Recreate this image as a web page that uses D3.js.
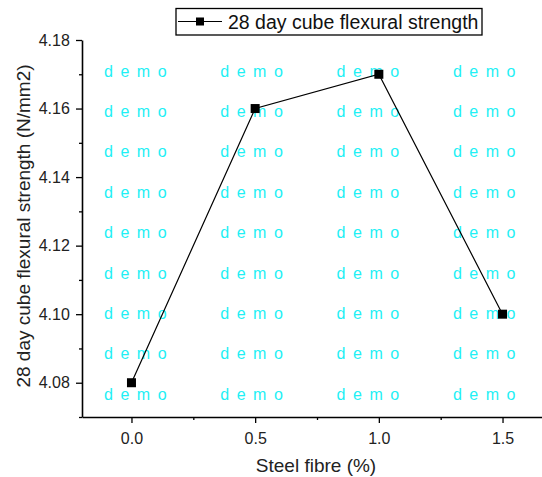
<!DOCTYPE html>
<html>
<head>
<meta charset="utf-8">
<script src="https://cdn.jsdelivr.net/npm/d3@7"></script>
<style>
  body { margin: 0; background: #fff; }
  text { font-family: Arial, "Liberation Sans", sans-serif; }
</style>
</head>
<body>
<svg id="chart" width="542" height="477"></svg>
<script>
var fibre = [0, 0.5, 1.0, 1.5];
var strength = [4.08, 4.16, 4.17, 4.10];
var xTicks = [0, 0.5, 1.0, 1.5];
var xMinor = [0.25, 0.75, 1.25];
var yTicks = [4.08, 4.10, 4.12, 4.14, 4.16, 4.18];
var yMinor = [4.07, 4.09, 4.11, 4.13, 4.15, 4.17];
var seriesName = "28 day cube flexural strength";
var watermarkRows = 9, watermarkCols = 4;

var svg = d3.select("#chart");
var margin = {left: 82, top: 40, bottom: 417};

var x = d3.scaleLinear().domain([-0.2, 1.7]).range([margin.left, 552]);
var y = d3.scaleLinear().domain([4.07, 4.18]).range([margin.bottom, margin.top]);

// watermark
var wm = svg.append("g").attr("class", "watermark");
for (var r = 0; r < watermarkRows; r++) {
  for (var c = 0; c < watermarkCols; c++) {
    wm.append("text")
      .attr("x", 104 + c * 116.3)
      .attr("y", 71 + r * 40.4)
      .attr("dy", "0.35em")
      .attr("fill", "#1ef0f5")
      .style("font-size", "16px")
      .style("letter-spacing", "7.5px")
      .text("demo");
  }
}

// axes
var gx = svg.append("g").attr("transform", "translate(0," + margin.bottom + ")");
gx.call(d3.axisBottom(x).tickValues(xTicks).tickFormat(d3.format(".1f")).tickSize(6).tickSizeOuter(0));
gx.append("g").call(d3.axisBottom(x).tickValues(xMinor).tickFormat("").tickSize(3).tickSizeOuter(0))
  .select(".domain").remove();

var gy = svg.append("g").attr("transform", "translate(" + margin.left + ",0)");
gy.call(d3.axisLeft(y).tickValues(yTicks).tickFormat(d3.format(".2f")).tickSize(6).tickSizeOuter(0));
gy.append("g").call(d3.axisLeft(y).tickValues(yMinor).tickFormat("").tickSize(3).tickSizeOuter(0))
  .select(".domain").remove();

svg.selectAll(".domain").attr("stroke-width", 1.6).attr("stroke", "#000");
svg.selectAll(".tick line").attr("stroke-width", 1.3).attr("stroke", "#000");
gx.selectAll(".tick text").style("font-size", "16px").attr("fill", "#222").attr("dy", "1.1em");
gy.selectAll(".tick text").style("font-size", "16px").attr("fill", "#222").attr("dx", "-0.2em");

// axis titles
svg.append("text")
  .attr("x", 316).attr("y", 472)
  .attr("text-anchor", "middle")
  .style("font-size", "19px")
  .attr("fill", "#222")
  .text("Steel fibre (%)");

svg.append("text")
  .attr("transform", "translate(30,226) rotate(-90)")
  .attr("text-anchor", "middle")
  .style("font-size", "19px")
  .attr("fill", "#222")
  .text("28 day cube flexural strength (N/mm2)");

// series
var pts = fibre.map(function(f, i) { return {x: f, y: strength[i]}; });
svg.append("path")
  .datum(pts)
  .attr("fill", "none")
  .attr("stroke", "#000")
  .attr("stroke-width", 1.2)
  .attr("d", d3.line().x(function(d) { return x(d.x); }).y(function(d) { return y(d.y); }));

svg.selectAll("rect.marker")
  .data(pts)
  .enter().append("rect")
  .attr("class", "marker")
  .attr("x", function(d) { return x(d.x) - 4.5; })
  .attr("y", function(d) { return y(d.y) - 4.5; })
  .attr("width", 9).attr("height", 9)
  .attr("fill", "#000");

// legend
var lg = svg.append("g");
lg.append("rect")
  .attr("x", 176).attr("y", 8.5).attr("width", 306).attr("height", 26.5)
  .attr("fill", "#fff").attr("stroke", "#000").attr("stroke-width", 1.3);
lg.append("line")
  .attr("x1", 178).attr("x2", 222).attr("y1", 21.5).attr("y2", 21.5)
  .attr("stroke", "#000").attr("stroke-width", 1.2);
lg.append("rect")
  .attr("x", 196).attr("y", 17.5).attr("width", 8).attr("height", 8).attr("fill", "#000");
lg.append("text")
  .attr("x", 228).attr("y", 28.5)
  .style("font-size", "19.5px")
  .attr("fill", "#111")
  .text(seriesName);
</script>
</body>
</html>
